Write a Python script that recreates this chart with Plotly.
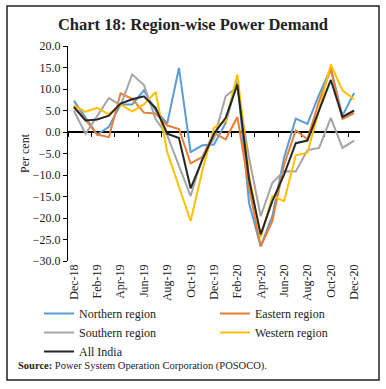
import plotly.graph_objects as go

months = ["Dec-18", "Jan-19", "Feb-19", "Mar-19", "Apr-19", "May-19", "Jun-19", "Jul-19",
          "Aug-19", "Sep-19", "Oct-19", "Nov-19", "Dec-19", "Jan-20", "Feb-20", "Mar-20",
          "Apr-20", "May-20", "Jun-20", "Jul-20", "Aug-20", "Sep-20", "Oct-20", "Nov-20", "Dec-20"]

northern = [7.3, 3.3, -0.6, 1.2, 6.4, 6.4, 9.7, 5.0, 2.0, 14.9, -4.7, -3.1, -2.9, 2.1, 11.8, -16.5,
            -26.6, -19.5, -6.0, 3.1, 1.9, 8.7, 14.8, 3.8, 9.1]
eastern = [6.0, 2.9, -0.6, -1.2, 9.0, 7.7, 4.5, 4.3, 1.5, 0.7, -7.3, -5.8, -0.2, -1.7, 3.5, -13.0,
           -26.6, -20.7, -7.6, 0.4, -1.7, 7.2, 14.6, 3.0, 4.4]
southern = [5.0, -0.4, 3.7, 7.9, 6.2, 13.4, 10.9, 3.0, -0.8, -8.0, -14.9, -6.0, -1.5, 8.3, 10.5, -6.0,
            -19.6, -11.8, -9.1, -9.2, -4.2, -3.7, 3.3, -3.7, -2.0]
western = [6.2, 4.7, 5.6, 4.1, 6.4, 4.8, 6.4, 9.3, -4.7, -12.5, -20.7, -9.0, 1.0, 2.5, 13.4, -10.0,
           -24.5, -14.9, -16.1, -5.4, -4.8, 5.2, 15.7, 9.7, 7.6]
all_india = [5.8, 2.7, 2.9, 3.8, 6.6, 7.6, 8.3, 5.6, -0.4, -1.4, -13.1, -6.5, -0.4, 3.3, 11.0, -11.0,
             -23.8, -16.0, -9.9, -2.6, -2.0, 5.2, 12.1, 3.5, 5.0]

series_names = ["Northern region", "Eastern region", "Southern region", "Western region", "All India"]
series_vals = [northern, eastern, southern, western, all_india]
colors = ["#5B9BD5", "#ED7D31", "#A5A5A5", "#FFC000", "#262626"]

FONT = "Liberation Serif"
x_idx = list(range(len(months)))

fig = go.Figure()
for name, vals, col in zip(series_names, series_vals, colors):
    fig.add_trace(go.Scatter(
        x=x_idx, y=vals, mode="lines", name=name,
        line=dict(color=col, width=2),
        xaxis="x2" if name == "All India" else "x",
    ))

W, H = 386, 389
L, R, T, B = 68, 26, 46, 128
pw, ph = W - L - R, H - T - B

def px(x):
    return (x - L) / pw

def py(y):
    return (H - B - y) / ph

fig.update_layout(
    width=W, height=H,
    margin=dict(l=L, r=R, t=T, b=B, autoexpand=False),
    paper_bgcolor="white", plot_bgcolor="white",
    font=dict(family=FONT, color="#222222", size=12),
    title=dict(text="<b>Chart 18: Region-wise Power Demand</b>", x=0.5, xanchor="center",
               y=1 - 24 / H, yanchor="middle", font=dict(family=FONT, size=16.5, color="#222222")),
    showlegend=True,
    legend=dict(orientation="h", x=px(39), xanchor="left", y=py(299), yanchor="top",
                entrywidth=131, entrywidthmode="pixels",
                font=dict(family=FONT, size=12, color="#222222"),
                tracegroupgap=0, bgcolor="rgba(0,0,0,0)"),
    xaxis=dict(range=[-0.5, 24.5], tickvals=x_idx[::2], ticktext=months[::2], tickangle=-90,
               showline=False, ticks="", showgrid=False, zeroline=False,
               tickfont=dict(family=FONT, size=12, color="#222222")),
    xaxis2=dict(range=[-0.5, 24.5], overlaying="x", anchor="free", position=0.6,
                showline=True, linecolor="black", linewidth=1.5,
                ticks="outside", ticklen=4, tickwidth=1.2, tickcolor="black",
                tickvals=[i + 1.5 for i in range(-2, 24, 2)], showticklabels=False,
                showgrid=False, zeroline=False, layer="below traces"),
    yaxis=dict(range=[-30, 20], dtick=5, tickformat=".1f", showline=True, linecolor="black",
               linewidth=1, ticks="outside", ticklen=4, tickcolor="black", showgrid=False,
               zeroline=False, tickfont=dict(family=FONT, size=12, color="#222222"),
               title=dict(text="Per cent", standoff=0, font=dict(family=FONT, size=12, color="#222222"))),
)

fig.add_annotation(
    text="<b>Source:</b> Power System Operation Corporation (POSOCO).",
    xref="paper", yref="paper", x=px(16), y=py(366), xanchor="left", yanchor="middle",
    showarrow=False, font=dict(family=FONT, size=10.5, color="#222222"),
)

fig.add_shape(type="rect", xref="paper", yref="paper",
              x0=px(7), x1=px(379), y0=py(380), y1=py(6),
              line=dict(color="#222222", width=1.5), fillcolor="rgba(0,0,0,0)", layer="below")

fig.write_html("out.html", config={"displayModeBar": False},
               post_script="document.body.style.margin='0';")
